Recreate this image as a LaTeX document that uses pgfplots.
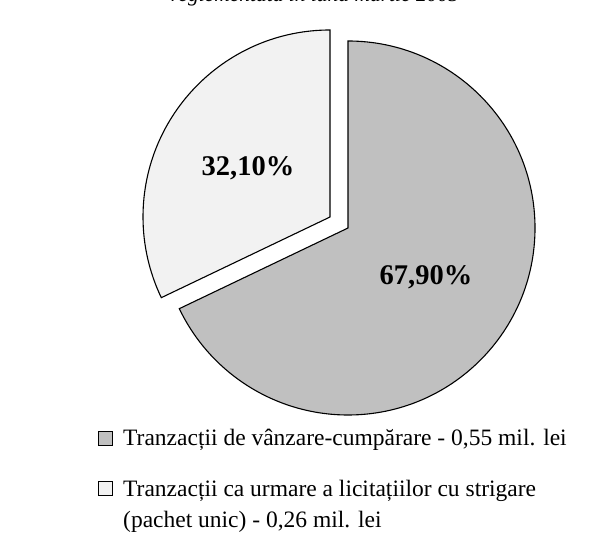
\documentclass[border=0pt]{standalone}
\usepackage{pgfplots}
\pgfplotsset{compat=1.18}
\usepackage{fontspec}
\setmainfont{Liberation Serif}
\definecolor{sliceA}{HTML}{C0C0C0}
\definecolor{sliceB}{HTML}{F2F2F2}
\begin{document}
\begin{tikzpicture}
% data (percent shares)
\def\valA{67.9}
\def\valB{32.1}
\pgfmathsetmacro{\angB}{90+360*\valB/100}
\pgfmathsetmacro{\angA}{\angB-360}
\begin{axis}[
  at={(0,0)}, anchor=south west,
  x=1pt, y=1pt,
  xmin=0, xmax=604, ymin=0, ymax=535,
  hide axis, clip=false,
]
% big slice (67,90%)
\filldraw[fill=sliceA, draw=black, line width=1.1pt]
  (axis cs:348,307) -- (axis cs:348,494) arc[start angle=90, end angle=\angA, radius=187] -- cycle;
% exploded slice (32,10%)
\filldraw[fill=sliceB, draw=black, line width=1.1pt]
  (axis cs:330,318) -- (axis cs:330,505) arc[start angle=90, end angle=\angB, radius=187] -- cycle;
\node[font=\fontsize{28.5}{34}\selectfont\bfseries] at (axis cs:248,367) {32,10\%};
\node[font=\fontsize{28.5}{34}\selectfont\bfseries] at (axis cs:426,258) {67,90\%};
% legend
\filldraw[fill=sliceA, draw=black, line width=0.8pt] (axis cs:98,90) rectangle (axis cs:112,104);
\node[anchor=base west, font=\fontsize{23.5}{28}\selectfont, inner sep=0pt] at (axis cs:123,89) {Tranzacții de vânzare-cumpărare - 0,55 mil. lei};
\filldraw[fill=sliceB, draw=black, line width=0.8pt] (axis cs:98,40) rectangle (axis cs:112,54);
\node[anchor=base west, font=\fontsize{23.5}{28}\selectfont, inner sep=0pt] at (axis cs:123,39) {Tranzacții ca urmare a licitațiilor cu strigare};
\node[anchor=base west, font=\fontsize{23.5}{28}\selectfont, inner sep=0pt] at (axis cs:123,8) {(pachet unic) - 0,26 mil. lei};
% title, cut off at the top edge as in the reference
\node[anchor=base, font=\fontsize{21.5}{26}\selectfont\itshape, inner sep=0pt] at (axis cs:315,533) {reglementată în luna martie 2005};
\end{axis}
\pgfresetboundingbox
\path[use as bounding box] (0,0) rectangle (604pt,535pt);
\end{tikzpicture}
\end{document}
